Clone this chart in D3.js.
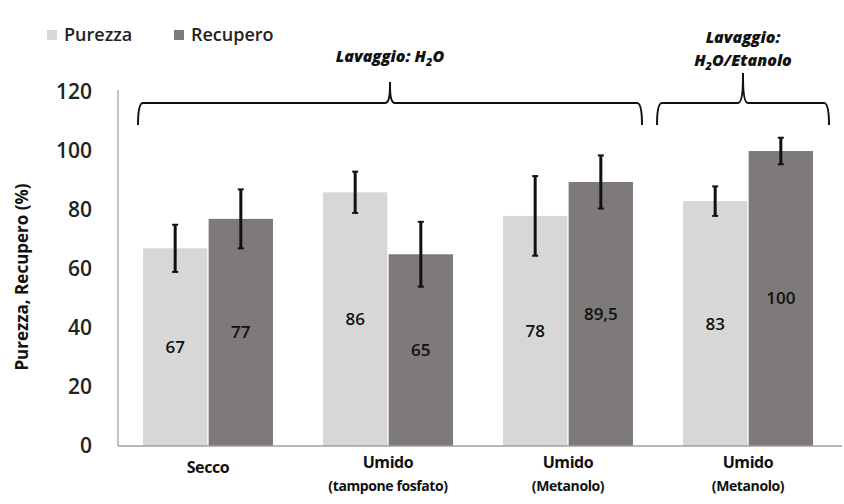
<!DOCTYPE html>
<html>
<head>
<meta charset="utf-8">
<script src="https://cdn.jsdelivr.net/npm/d3@7/dist/d3.min.js"></script>
<style>
  html, body { margin: 0; padding: 0; background: #ffffff; }
  svg { display: block; }
  text { font-family: "Open Sans", "DejaVu Sans", sans-serif; }
</style>
</head>
<body>
<svg id="chart" width="844" height="504"></svg>
<script>
// ---- data ----
const categoryMain = ["Secco", "Umido", "Umido", "Umido"];
const categorySub  = ["", "(tampone fosfato)", "(Metanolo)", "(Metanolo)"];
const seriesNames  = ["Purezza", "Recupero"];
const purezza      = [67, 86, 78, 83];
const recupero     = [77, 65, 89.5, 100];
const purezzaErr   = [8, 7, 13.5, 5];
const recuperoErr  = [10, 11, 9, 4.5];
const yTicks       = [0, 20, 40, 60, 80, 100, 120];
const yLabel       = "Purezza, Recupero (%)";
const bracketGroups = [
  { from: 0, to: 2, lines: ["Lavaggio: H|2|O"] },
  { from: 3, to: 3, lines: ["Lavaggio:", "H|2|O/Etanolo"] }
];

// ---- layout ----
const svg = d3.select("#chart");
const colors = { Purezza: "#d7d7d7", Recupero: "#7e7a7a" };
const plot = { left: 118, right: 838, top: 92, bottom: 446 };

const idx = categoryMain.map((d, i) => i);
const x = d3.scaleBand().domain(idx).range([plot.left, plot.right])
  .paddingInner(50 / 180).paddingOuter(25 / 180);
const xs = d3.scaleBand().domain(seriesNames).range([0, x.bandwidth()]).paddingInner(0.02);
const y = d3.scaleLinear().domain([0, 120]).range([plot.bottom, plot.top]);

const data = idx.map(i => ({
  i,
  values: [
    { s: "Purezza", v: purezza[i], e: purezzaErr[i] },
    { s: "Recupero", v: recupero[i], e: recuperoErr[i] }
  ]
}));

// axis lines
svg.append("line").attr("x1", plot.left).attr("x2", plot.left)
  .attr("y1", y(120) - 2).attr("y2", plot.bottom)
  .attr("stroke", "#9a9a9a").attr("stroke-width", 1.2);

// y tick labels
const yAxis = d3.axisLeft(y).tickValues(yTicks).tickSize(0).tickPadding(26);
const ga = svg.append("g").attr("transform", `translate(${plot.left},0)`).call(yAxis);
ga.select(".domain").remove();
ga.selectAll("text").attr("font-size", 21).attr("font-weight", 600).attr("fill", "#222")
  .attr("font-family", "'Open Sans', sans-serif");

// bars
const groups = svg.append("g").selectAll("g").data(data).join("g")
  .attr("transform", d => `translate(${x(d.i)},0)`);

groups.selectAll("rect").data(d => d.values).join("rect")
  .attr("x", d => xs(d.s)).attr("width", xs.bandwidth())
  .attr("y", d => y(d.v)).attr("height", d => y(0) - y(d.v))
  .attr("fill", d => colors[d.s]);

// error bars
const eb = groups.selectAll("g.err").data(d => d.values).join("g").attr("class", "err");
eb.append("line")
  .attr("x1", d => xs(d.s) + xs.bandwidth() / 2).attr("x2", d => xs(d.s) + xs.bandwidth() / 2)
  .attr("y1", d => y(d.v + d.e)).attr("y2", d => y(d.v - d.e))
  .attr("stroke", "#111").attr("stroke-width", 3);
eb.selectAll("line.cap").data(d => [d.v + d.e, d.v - d.e].map(t => ({ t, s: d.s }))).join("line")
  .attr("class", "cap")
  .attr("x1", d => xs(d.s) + xs.bandwidth() / 2 - 3).attr("x2", d => xs(d.s) + xs.bandwidth() / 2 + 3)
  .attr("y1", d => y(d.t)).attr("y2", d => y(d.t))
  .attr("stroke", "#111").attr("stroke-width", 2);

// value labels
groups.selectAll("text.val").data(d => d.values).join("text").attr("class", "val")
  .attr("x", d => xs(d.s) + xs.bandwidth() / 2)
  .attr("y", d => (y(d.v) + y(0)) / 2)
  .attr("dy", "0.35em").attr("text-anchor", "middle")
  .attr("font-size", 17).attr("font-weight", 600).attr("fill", "#111")
  .text(d => String(d.v).replace(".", ","));

// baseline
svg.append("line").attr("x1", plot.left).attr("x2", 842)
  .attr("y1", plot.bottom).attr("y2", plot.bottom)
  .attr("stroke", "#a0a0a0").attr("stroke-width", 1.5);

// x labels
const xl = svg.append("g").selectAll("text").data(idx).join("text")
  .attr("text-anchor", "middle").attr("font-weight", 700).attr("fill", "#111")
  .attr("x", i => x(i) + x.bandwidth() / 2);
xl.append("tspan").attr("x", i => x(i) + x.bandwidth() / 2)
  .attr("y", i => categorySub[i] ? 468 : 473).attr("font-size", 16).attr("letter-spacing", -0.4)
  .text(i => categoryMain[i]);
xl.append("tspan").attr("x", i => x(i) + x.bandwidth() / 2)
  .attr("y", 491).attr("font-size", 14).attr("letter-spacing", -0.4)
  .text(i => categorySub[i]);

// y axis title
svg.append("text").attr("transform", `translate(28,${(plot.top + plot.bottom) / 2 + 8}) rotate(-90)`)
  .attr("text-anchor", "middle").attr("font-size", 17).attr("font-weight", 700).attr("fill", "#111")
  .text(yLabel);

// legend
const leg = svg.append("g");
const legendX = [47, 174];
seriesNames.forEach((s, k) => {
  leg.append("rect").attr("x", legendX[k]).attr("y", 30).attr("width", 10).attr("height", 10)
    .attr("fill", colors[s]);
  leg.append("text").attr("x", legendX[k] + 17).attr("y", 35).attr("dy", "0.35em")
    .attr("font-size", 18).attr("font-weight", 600).attr("fill", "#222").text(s);
});

// brackets
const bracketPad = [[-5, 9], [-26, 16]];
const lineY = 103, endY = 125;
bracketGroups.forEach((b, k) => {
  const x1 = x(b.from) + bracketPad[k][0];
  const x2 = x(b.to) + x.bandwidth() + bracketPad[k][1];
  const xm = (x1 + x2) / 2;
  const tipY = k === 0 ? 82 : 73;
  const r = 5;
  const p = d3.path();
  p.moveTo(x1, endY);
  p.quadraticCurveTo(x1, lineY, x1 + r, lineY);
  p.lineTo(xm - r, lineY);
  p.quadraticCurveTo(xm, lineY, xm, tipY + 4);
  p.lineTo(xm, tipY);
  p.moveTo(xm, tipY + 4);
  p.quadraticCurveTo(xm, lineY, xm + r, lineY);
  p.lineTo(x2 - r, lineY);
  p.quadraticCurveTo(x2, lineY, x2, endY);
  svg.append("path").attr("d", p.toString()).attr("fill", "none")
    .attr("stroke", "#111").attr("stroke-width", 2);

  const startY = b.lines.length === 1 ? 56 : 37;
  b.lines.forEach((ln, j) => {
    const t = svg.append("text").attr("x", xm).attr("y", startY + j * 23).attr("dy", "0.35em")
      .attr("text-anchor", "middle").attr("font-size", 16).attr("font-weight", 800)
      .attr("font-style", "italic").attr("fill", "#111");
    ln.split("|").forEach((part, q) => {
      const ts = t.append("tspan").text(part);
      if (q === 1) ts.attr("font-size", 11).attr("dy", 4);
      if (q === 2) ts.attr("dy", -4);
    });
  });
});
</script>
</body>
</html>
